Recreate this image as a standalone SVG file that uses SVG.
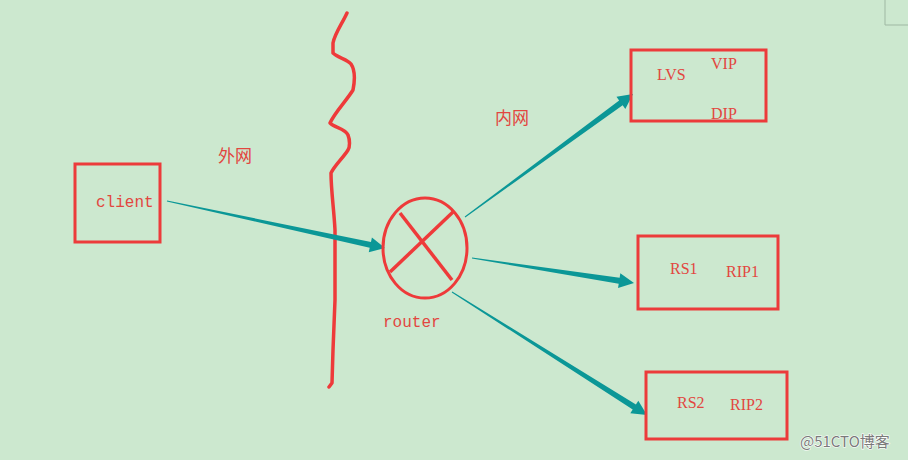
<svg xmlns="http://www.w3.org/2000/svg" width="908" height="460" viewBox="0 0 908 460">
<style>
.box{fill:none;stroke:#ec3b3b;stroke-width:3}
.lbl{font-family:"Liberation Serif",serif;font-size:16px;fill:#e2463f}
.mono{font-family:"Liberation Mono",monospace;font-size:16px;fill:#e2463f}
.cjk{font-family:"Noto Sans CJK SC",sans-serif;font-size:17px;fill:#e2463f}
.arr{fill:#0b9797}
</style>
<rect x="0" y="0" width="908" height="460" fill="#cce8cf"/>
<path d="M885 0 V25 H908" fill="none" stroke="#9fb8a3" stroke-width="1"/>
<path id="wall" d="M347 13 C342 24 335 33 333 43 L333 53 C338 58 347 59 351 64 C355 70 355 80 353 90 C347 100 335 112 330 123 C335 128 345 128 348 135 C350 140 350 147 348 150 C343 158 335 165 331 173 C331 190 334 210 335 230 L335 300 L333 350 L332 383 L329 387" fill="none" stroke="#ee3a3a" stroke-width="3.5" stroke-linejoin="round" stroke-linecap="round"/>
<text class="cjk" x="218" y="162">外网</text>
<text class="cjk" x="495" y="124">内网</text>
<g id="connectors">
<polygon class="arr" points="167.11,200.51 370.97,241.91 371.92,237.51 385,248 368.76,252.17 369.71,247.77 166.89,201.49"/>
<polygon class="arr" points="464.70,216.60 619.13,100.44 616.47,96.81 633,94 625.33,108.91 622.67,105.28 465.30,217.40"/>
<polygon class="arr" points="472.08,257.51 619.64,277.75 620.32,273.30 634,283 618.04,288.12 618.72,283.67 471.92,258.49"/>
<polygon class="arr" points="452.27,291.58 635.91,404.46 638.31,400.66 647,415 630.31,413.34 632.71,409.54 451.73,292.42"/>
</g>
<g id="client">
<rect class="box" x="75" y="164" width="85" height="78"/>
<text class="mono" x="96" y="207">client</text>
</g>
<g id="router">
<ellipse cx="425" cy="248" rx="42" ry="50" fill="none" stroke="#ee3a3a" stroke-width="3"/>
<line x1="400" y1="213" x2="452" y2="280" stroke="#ee3a3a" stroke-width="3.5"/>
<line x1="453" y1="212" x2="390" y2="272" stroke="#ee3a3a" stroke-width="3.5"/>
<text class="mono" x="383" y="327">router</text>
</g>
<g id="lvs">
<rect class="box" x="631" y="50" width="135" height="71"/>
<text class="lbl" x="657" y="80">LVS</text>
<text class="lbl" x="711" y="69">VIP</text>
<text class="lbl" x="711" y="119">DIP</text>
</g>
<g id="rs1">
<rect class="box" x="638" y="236" width="140" height="73"/>
<text class="lbl" x="670" y="274">RS1</text>
<text class="lbl" x="726" y="277">RIP1</text>
</g>
<g id="rs2">
<rect class="box" x="646" y="372" width="141" height="67"/>
<text class="lbl" x="677" y="408">RS2</text>
<text class="lbl" x="730" y="410">RIP2</text>
</g>
<text x="800" y="447" font-family="'Noto Sans CJK SC',sans-serif" font-size="15" fill="#7a7a7a" stroke="#ffffff" stroke-width="1.2" paint-order="stroke">@51CTO博客</text>
</svg>
